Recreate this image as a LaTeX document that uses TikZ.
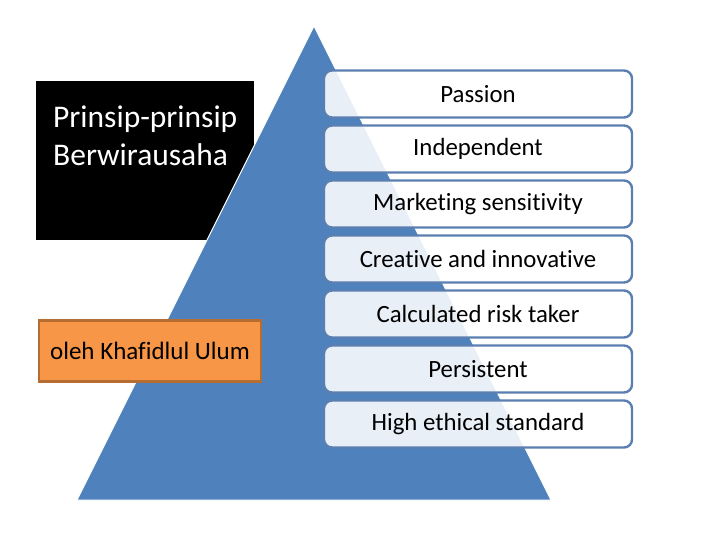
\documentclass[tikz,border=0pt]{standalone}
\usepackage{fontspec}
\setmainfont[Ligatures=NoCommon]{Carlito}
\definecolor{piramida}{RGB}{79,129,189}
\definecolor{garisbox}{RGB}{90,127,176}
\definecolor{oranye}{RGB}{247,150,70}
\definecolor{oranyetua}{RGB}{182,109,49}
\tikzset{
  prinsip/.style={draw=garisbox,line width=2.4pt,rounded corners=8pt,
    fill=white,fill opacity=0.88,text opacity=1,
    minimum width=308pt,minimum height=47pt,inner sep=0pt,
    font=\fontsize{24.8}{29}\selectfont},
}
\begin{document}
\begin{tikzpicture}[x=1pt,y=-1pt]
    \useasboundingbox (0,0) rectangle (720,540);

    % Kotak judul
    \node[fill=black,minimum width=218pt,minimum height=159pt,inner sep=0pt,anchor=north west] (judulbox) at (36,81) {};
    \node[text=white,align=left,anchor=north west,inner sep=0pt,font=\fontsize{31.5}{37.5}\selectfont] (judul) at (53,106) {Prinsip-prinsip\\Berwirausaha};

    % Piramida
    \draw[fill=piramida,draw=white,line width=1pt] (314,26) -- (551,500) -- (77,500) -- cycle;

    % Kotak penulis
    \node[fill=oranye,draw=oranyetua,line width=2.5pt,minimum width=222pt,minimum height=61pt,inner sep=0pt,font=\fontsize{25}{29}\selectfont] (penulis) at (150,351) {oleh Khafidlul Ulum};

    % Daftar prinsip
    \foreach \teks [count=\i] in {Passion,Independent,Marketing sensitivity,Creative and innovative,Calculated risk taker,Persistent,High ethical standard}
        \node[prinsip] (prinsip\i) at (478,{94+55*(\i-1)}) {\teks};
\end{tikzpicture}
\end{document}
